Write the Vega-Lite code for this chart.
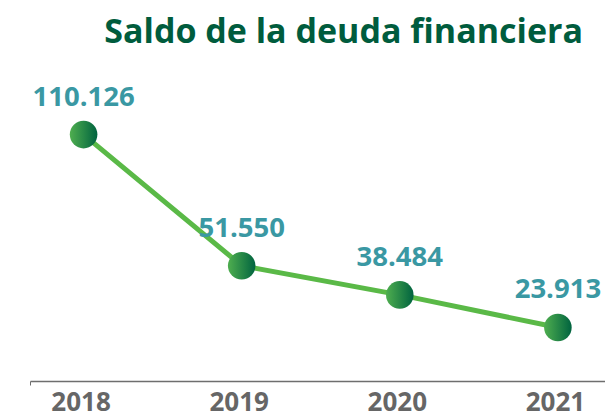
{
  "$schema": "https://vega.github.io/schema/vega-lite/v6.json",
  "autosize": "none",
  "width": 575,
  "height": 311,
  "padding": {"left": 30, "top": 70, "right": 0, "bottom": 36},
  "background": "white",
  "title": {
    "text": "Saldo de la deuda financiera",
    "anchor": "end",
    "dx": -22,
    "offset": 20,
    "font": "Open Sans",
    "fontSize": 34,
    "fontWeight": "bold",
    "color": "#005c3d"
  },
  "data": {
    "values": [
      {"year": 2018, "deuda": 110126, "label": "110.126"},
      {"year": 2019, "deuda": 51550, "label": "51.550"},
      {"year": 2020, "deuda": 38484, "label": "38.484"},
      {"year": 2021, "deuda": 23913, "label": "23.913"}
    ]
  },
  "config": {"view": {"stroke": null}},
  "encoding": {
    "x": {
      "field": "year",
      "type": "quantitative",
      "scale": {"domain": [2017.661, 2021.298], "nice": false, "zero": false},
      "axis": {
        "title": null,
        "values": [2017.661, 2018, 2019, 2020, 2021],
        "labelExpr": "datum.value < 2018 ? '' : format(datum.value, 'd')",
        "grid": false,
        "domainColor": "#6e6e6e",
        "domainWidth": 1.5,
        "tickColor": "#6e6e6e",
        "tickOpacity": {"condition": {"test": "datum.value < 2018", "value": 1}, "value": 0},
        "tickSize": 4,
        "tickWidth": 1,
        "labelFont": "Open Sans",
        "labelFontSize": 26,
        "labelFontWeight": "bold",
        "labelColor": "#666666",
        "labelPadding": 4,
        "labelOffset": -3,
        "labelFlush": false
      }
    },
    "y": {
      "field": "deuda",
      "type": "quantitative",
      "scale": {"domain": [0, 139000], "nice": false},
      "axis": null
    }
  },
  "layer": [
    {"mark": {"type": "line", "color": "#5ab947", "strokeWidth": 5}},
    {
      "mark": {
        "type": "point",
        "filled": true,
        "size": 760,
        "opacity": 1,
        "fill": {
          "gradient": "linear",
          "x1": 0, "y1": 0, "x2": 1, "y2": 0,
          "stops": [
            {"offset": 0, "color": "#4fae4f"},
            {"offset": 1, "color": "#00633f"}
          ]
        }
      }
    },
    {
      "mark": {
        "type": "text",
        "dy": -29,
        "baseline": "alphabetic",
        "align": "center",
        "font": "Open Sans",
        "fontSize": 27.5,
        "fontWeight": "bold",
        "color": "#3a98a3"
      },
      "encoding": {"text": {"field": "label"}}
    }
  ]
}
